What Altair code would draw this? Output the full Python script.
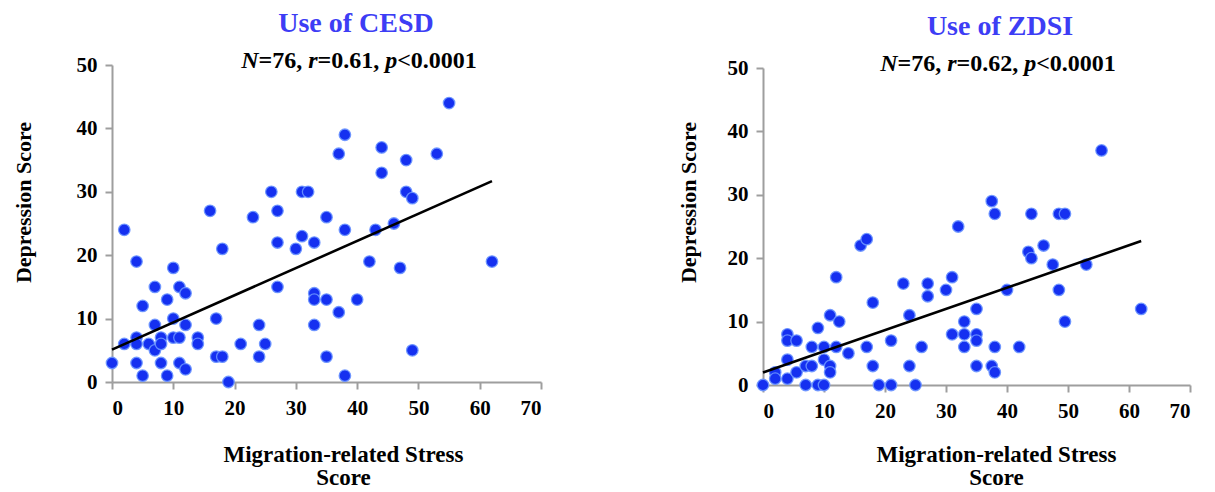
import altair as alt
import pandas as pd

# ---------------- data ----------------
cesd_x = [0, 2, 2, 4, 4, 4, 4, 5, 5, 6, 7, 7, 7, 8, 8, 8, 9, 9, 10, 10, 10, 11, 11, 11,
          12, 12, 12, 14, 14, 16, 17, 17, 18, 18, 19, 21, 23, 24, 24, 25, 26, 27, 27, 27,
          30, 31, 31, 32, 33, 33, 33, 33, 35, 35, 35, 37, 37, 38, 38, 38, 40, 42, 43, 44,
          44, 46, 47, 48, 48, 49, 49, 53, 55, 62]
cesd_y = [3, 24, 6, 19, 7, 6, 3, 12, 1, 6, 15, 9, 5, 7, 6, 3, 13, 1, 18, 10, 7, 7, 15, 3,
          14, 9, 2, 7, 6, 27, 10, 4, 4, 21, 0, 6, 26, 9, 4, 6, 30, 27, 22, 15,
          21, 23, 30, 30, 22, 14, 13, 9, 26, 13, 4, 11, 36, 39, 24, 1, 13, 19, 24, 37,
          33, 25, 18, 35, 30, 29, 5, 36, 44, 19]

zdsi_x = [0, 2, 2, 4, 4, 5.5, 4, 4, 5.5, 7, 8, 7, 9, 10, 8, 9, 10, 10, 11, 11, 11, 12.5,
          12, 12, 14, 16, 17, 17, 18, 18, 19, 21, 21, 23, 24, 24, 25, 26, 27, 27, 30, 31,
          31, 55.5, 37.5, 38, 44, 48.5, 49.5, 32, 46, 43.5, 44, 47.5, 53, 40, 48.5, 35, 62,
          33, 49.5, 33, 35, 35, 33, 38, 42, 35, 37.5, 38]
zdsi_y = [0, 2, 1, 8, 7, 7, 4, 1, 2, 3, 3, 0, 0, 0, 6, 9, 6, 4, 3, 2, 11, 10,
          17, 6, 5, 22, 23, 6, 13, 3, 0, 0, 7, 16, 11, 3, 0, 6, 16, 14, 15, 17,
          8, 37, 29, 27, 27, 27, 27, 25, 22, 21, 20, 19, 19, 15, 15, 12, 12,
          10, 10, 8, 8, 7, 6, 6, 6, 3, 3, 2]

x_ticks = [0, 10, 20, 30, 40, 50, 60, 70]
y_ticks = [0, 10, 20, 30, 40, 50]
x_title = ["Migration-related Stress", "Score"]
y_title = "Depression Score"

cesd_title = ["Use of CESD"]
zdsi_title = ["Use of ZDSI"]
cesd_stats = ["N", "=76, ", "r", "=0.61, ", "p", "<0.0001"]
zdsi_stats = ["N", "=76, ", "r", "=0.62, ", "p", "<0.0001"]
stats_italic = [True, False, True, False, True, False]

# ---------------- styling ----------------
FONT = "Liberation Serif"
DOT_FILL = "#1530F0"
DOT_STROKE = "#6A94FF"
TITLE_BLUE = "#3D3DF5"
AXIS_GRAY = "#9E9E9E"
W_LEFT, W_RIGHT = 429, 427
ANN_SIZE = 24

# Times-compatible advance widths (em) for Liberation Serif Bold / Bold Italic
BOLD_W = {"=": 0.570, ",": 0.25, " ": 0.25, ".": 0.25, "<": 0.570}
ITAL_W = {"N": 0.722, "r": 0.389, "p": 0.5}


def seg_width(s, italic):
    total = 0.0
    for ch in s:
        if italic:
            total += ITAL_W.get(ch, 0.5)
        else:
            total += BOLD_W.get(ch, 0.5)
    return total * ANN_SIZE


def panel(xs, ys, title, stats, width, top, bottom, title_x, ann_center,
          ytitle_x, ytitle_y, xtitle_x, xtitle_y):
    df = pd.DataFrame({"x": xs, "y": ys})
    xenc = alt.X(
        "x:Q",
        scale=alt.Scale(domain=[0, 70], nice=False, zero=False),
        axis=alt.Axis(values=x_ticks, title=x_title, titleX=xtitle_x, titleY=xtitle_y,
                      titleFontSize=23, titleLineHeight=23, titleBaseline="top"),
    )
    yenc = alt.Y(
        "y:Q",
        scale=alt.Scale(domain=[0, 50], nice=False, zero=False, range=[bottom, top]),
        axis=alt.Axis(values=y_ticks, title=y_title, titleX=ytitle_x, titleY=ytitle_y,
                      titleFontSize=22, titleAngle=270, titleBaseline="bottom",
                      titleAlign="center"),
    )
    base = alt.Chart(df)
    pts = base.mark_circle(size=132, color=DOT_FILL, opacity=1, stroke=DOT_STROKE,
                           strokeWidth=1.3, strokeOpacity=0.9).encode(x=xenc, y=yenc)
    line = base.transform_regression("x", "y").mark_line(
        color="black", strokeWidth=2.6).encode(x=xenc, y=yenc)

    ttl = alt.Chart(pd.DataFrame({"t": title})).mark_text(
        font=FONT, fontSize=28, fontWeight="bold", color=TITLE_BLUE,
        align="center", baseline="alphabetic",
    ).encode(text="t:N", x=alt.value(title_x), y=alt.value(top - 33))

    layers = [pts, line, ttl]
    total = sum(seg_width(s, it) for s, it in zip(stats, stats_italic))
    pos = ann_center - total / 2
    for s, it in zip(stats, stats_italic):
        layers.append(
            alt.Chart(pd.DataFrame({"t": [s]})).mark_text(
                font=FONT, fontSize=ANN_SIZE, fontWeight="bold",
                fontStyle="italic" if it else "normal", color="black",
                align="left", baseline="alphabetic",
            ).encode(text="t:N", x=alt.value(pos), y=alt.value(top + 3))
        )
        pos += seg_width(s, it)
    return alt.layer(*layers).properties(width=width, height=bottom)


left = panel(cesd_x, cesd_y, cesd_title, cesd_stats, W_LEFT, top=0, bottom=317,
             title_x=244, ann_center=247,
             ytitle_x=-77, ytitle_y=137, xtitle_x=231, xtitle_y=61)
right = panel(zdsi_x, zdsi_y, zdsi_title, zdsi_stats, W_RIGHT, top=3, bottom=320,
              title_x=237, ann_center=235,
              ytitle_x=-63, ytitle_y=137, xtitle_x=233, xtitle_y=58)

chart = alt.hconcat(
    left, right, spacing=135,
    padding={"left": 4, "top": 2, "right": 5, "bottom": 5},
).configure_view(
    stroke=None
).configure_axis(
    grid=False,
    labelFont=FONT, labelFontSize=21, labelFontWeight="bold", labelColor="black",
    labelPadding=8,
    titleFont=FONT, titleFontWeight="bold", titleColor="black",
    domainColor=AXIS_GRAY, domainWidth=2,
    tickColor=AXIS_GRAY, tickWidth=2, tickSize=7,
)

chart.save("out.html", embed_options={"renderer": "svg", "actions": False})
